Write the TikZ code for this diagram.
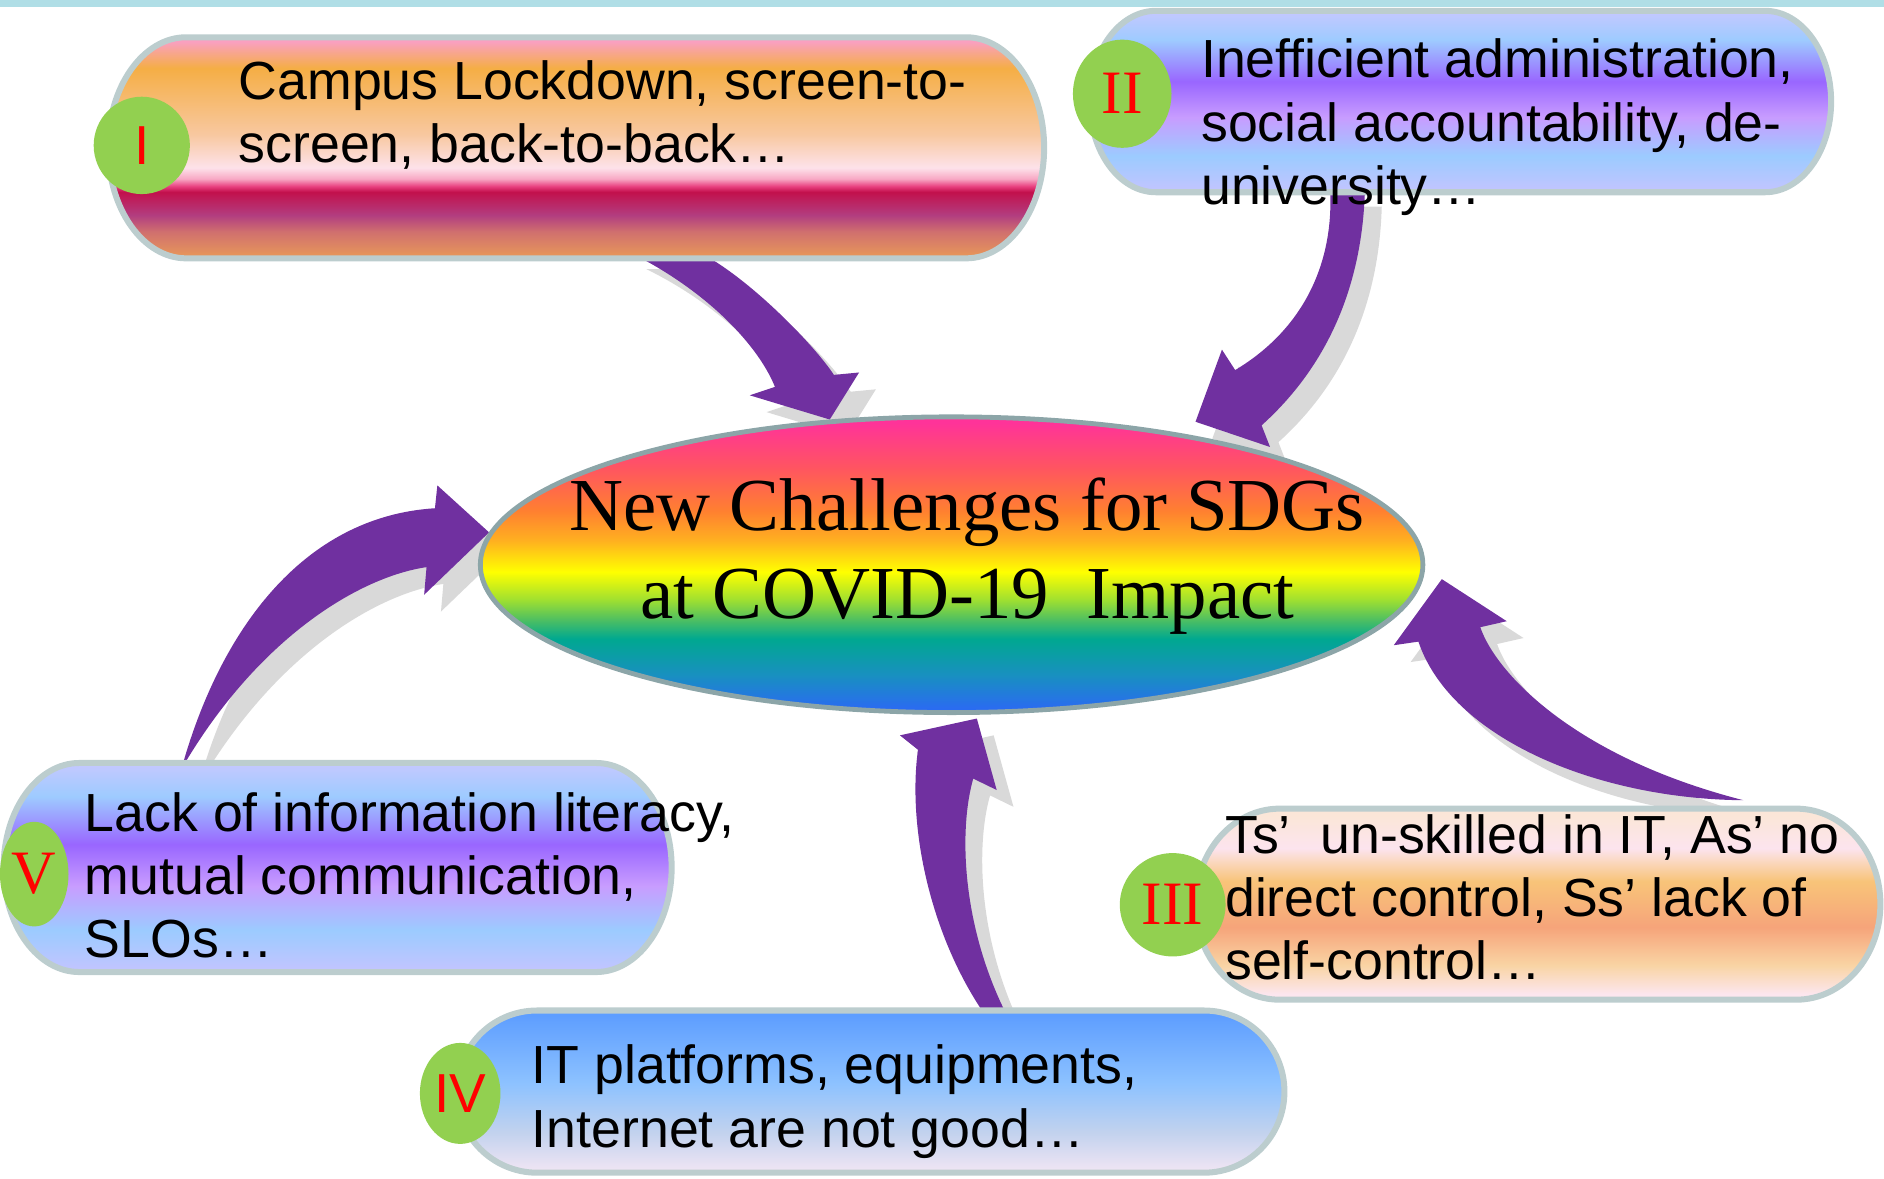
\documentclass[tikz,border=0pt]{standalone}
\usepackage{fontspec}
\setmainfont{Liberation Sans}
\newfontfamily\seriffont{Liberation Serif}
\usetikzlibrary{shapes.geometric, calc}

\pgfdeclarelayer{back}
\pgfsetlayers{back,main}

% COLOURS
\definecolor{arrow-purple}{HTML}{7030A0}
\definecolor{shadow-grey}{HTML}{D9D9D9}
\definecolor{pill-line}{HTML}{BCCDCE}
\definecolor{hub-line}{HTML}{8CA5A8}
\definecolor{badge-green}{HTML}{92D050}
\definecolor{band-cyan}{HTML}{B0DEE6}

\definecolor{c1}{HTML}{E99A58}\definecolor{c2}{HTML}{D0706E}
\definecolor{c3}{HTML}{B23E80}\definecolor{c4}{HTML}{C2104C}
\definecolor{c5}{HTML}{E84080}\definecolor{c6}{HTML}{F8A8C4}
\definecolor{c7}{HTML}{FDE2EA}\definecolor{c8}{HTML}{F8C8A0}
\definecolor{c9}{HTML}{F5AE45}\definecolor{c10}{HTML}{F9A0C0}

\definecolor{l1}{HTML}{C4C4FF}\definecolor{l2}{HTML}{9CCBFF}
\definecolor{l3}{HTML}{C89CFF}\definecolor{l4}{HTML}{9966FF}
\definecolor{l5}{HTML}{9ECBFF}\definecolor{l6}{HTML}{C5C8FF}

\definecolor{p1}{HTML}{FCE6EE}\definecolor{p2}{HTML}{F9D4A4}
\definecolor{p3}{HTML}{F6A47A}\definecolor{p4}{HTML}{F8C479}
\definecolor{p5}{HTML}{FCE4EE}\definecolor{p6}{HTML}{FBE6D8}

\definecolor{s1}{HTML}{F2E6F4}\definecolor{s2}{HTML}{C2D2EE}
\definecolor{s3}{HTML}{8DC2FF}\definecolor{s4}{HTML}{5E9EFF}

\definecolor{r1}{HTML}{2A6CF0}\definecolor{r2}{HTML}{1890C0}
\definecolor{r3}{HTML}{00A890}\definecolor{r4}{HTML}{50C060}
\definecolor{r5}{HTML}{A0E030}\definecolor{r6}{HTML}{FFFF00}
\definecolor{r7}{HTML}{FFB020}\definecolor{r8}{HTML}{FF8030}
\definecolor{r9}{HTML}{FF5560}\definecolor{r10}{HTML}{FF3399}

% SHADINGS
\pgfdeclareverticalshading{shade-campus}{100bp}{color(0bp)=(c1); color(25bp)=(c1);
    color(31bp)=(c2); color(34.7bp)=(c3); color(40bp)=(c4); color(41.3bp)=(c5);
    color(43bp)=(c6); color(45.5bp)=(c7); color(53bp)=(c8); color(68bp)=(c9);
    color(74bp)=(c10); color(100bp)=(c10)}
\pgfdeclareverticalshading{shade-lilac}{100bp}{color(0bp)=(l1); color(25bp)=(l1);
    color(35bp)=(l2); color(45.7bp)=(l3); color(55.5bp)=(l4); color(67bp)=(l5);
    color(75bp)=(l6); color(100bp)=(l6)}
\pgfdeclareverticalshading{shade-peach}{100bp}{color(0bp)=(p1); color(26.5bp)=(p1);
    color(34bp)=(p2); color(44bp)=(p3); color(56bp)=(p4); color(64.6bp)=(p5);
    color(73bp)=(p6); color(100bp)=(p6)}
\pgfdeclareverticalshading{shade-sky}{100bp}{color(0bp)=(s1); color(25bp)=(s1);
    color(37.5bp)=(s2); color(52.5bp)=(s3); color(73.5bp)=(s4); color(100bp)=(s4)}
\pgfdeclareverticalshading{shade-hub}{100bp}{color(0bp)=(r1); color(25.8bp)=(r1);
    color(31.4bp)=(r2); color(37.5bp)=(r3); color(40.8bp)=(r4); color(44.1bp)=(r5);
    color(48.8bp)=(r6); color(54.1bp)=(r7); color(59.1bp)=(r8); color(66.3bp)=(r9);
    color(74bp)=(r10); color(100bp)=(r10)}

\newcommand{\sansnum}{\fontsize{13}{15}\selectfont}
\newcommand{\serifnum}{\seriffont\fontsize{14.6}{16}\selectfont}

\tikzset{
    my-pill/.style={
        draw=pill-line, line width=0.5mm, shade
    },
    my-hub/.style={
        ellipse, draw=hub-line, line width=0.4mm, shade, shading=shade-hub,
        minimum width=7.84cm, minimum height=2.46cm, inner sep=0pt
    },
    my-title/.style={
        align=center, inner sep=0pt, font=\seriffont\fontsize{17.7}{20.8}\selectfont
    },
    my-badge/.style={
        ellipse, fill=badge-green, inner sep=0pt, text=red
    },
    my-text/.style={
        anchor=west, align=left, inner sep=0pt, font=\fontsize{12.7}{15}\selectfont
    },
    my-arrow/.style={fill=arrow-purple},
    my-shadow/.style={fill=shadow-grey, transform canvas={shift={(14,14)}}},
}

% #1 name, #2 shading, #3 x1, #4 y1, #5 x2, #6 y2, #7 end radius
\newcommand{\pillbox}[7]{%
    \path[my-pill, shading=#2]
        (#3+#7,#4) -- (#5-#7,#4)
        arc[start angle=-90, end angle=90, x radius=#7, y radius={(#6-#4)/2}]
        -- (#3+#7,#6)
        arc[start angle=90, end angle=270, x radius=#7, y radius={(#6-#4)/2}]
        -- cycle;
    \coordinate (#1) at ({(#3+#5)/2},{(#4+#6)/2});
}

% shadow first, then the arrow itself
\newcommand{\bentarrow}[1]{%
    \fill[my-shadow] #1;
    \fill[my-arrow]  #1;
}

\begin{document}
\begin{tikzpicture}[x=0.01cm, y=-0.01cm]

        \useasboundingbox (0,0) rectangle (1568,981);

        % TOP BAND
        \fill[band-cyan] (0,0) rectangle (1568,6);

        % HUB
        \node[my-hub]   (HUB)   at (792,470) {};
        \node[my-title] (TITLE) at (805,463) {New Challenges for SDGs\\at COVID-19\ \ Impact};

        % BOXES
        \pillbox{BOXI}  {shade-campus}{90} {31} {869} {215}{65}
        \pillbox{BOXII} {shade-lilac} {907}{9}  {1524}{160}{55}
        \pillbox{BOXIII}{shade-peach} {995}{673}{1565}{832}{70}
        \pillbox{BOXIV} {shade-sky}   {380}{841}{1069}{976}{67}
        \pillbox{BOXV}  {shade-lilac} {3}  {635}{559} {809}{63}

        % BADGES
        \node[my-badge, minimum width=.80cm, minimum height=.81cm, font=\sansnum]  (NUMI)   at (118,121)   {I};
        \node[my-badge, minimum width=.82cm, minimum height=.90cm, font=\serifnum] (NUMII)  at (934,78)    {II};
        \node[my-badge, minimum width=.88cm, minimum height=.86cm, font=\serifnum] (NUMIII) at (976,753)   {III};
        \node[my-badge, minimum width=.67cm, minimum height=.84cm, font=\sansnum]  (NUMIV)  at (383,910)   {IV};
        \node[my-badge, minimum width=.57cm, minimum height=.87cm, font=\serifnum] (NUMV)   at (28.5,727.5){V};

        % TEXTS
        \node[my-text] (TXTI)   at (198,95.6)  {Campus Lockdown, screen-to-\\screen, back-to-back…};
        \node[my-text] (TXTII)  at (999,105.8) {Inefficient administration,\\social accountability, de-\\university…};
        \node[my-text] (TXTIII) at (1019,746.9){Ts’\ \ un-skilled in IT, As’ no\\direct control, Ss’ lack of\\self-control…};
        \node[my-text] (TXTIV)  at (442,916.8) {IT platforms, equipments,\\Internet are not good…};
        \node[my-text] (TXTV)   at (70,728.4)  {Lack of information literacy,\\mutual communication,\\SLOs…};

        % ARROWS, BEHIND EVERYTHING
        \begin{pgfonlayer}{back}

        % I -> HUB
        \coordinate (AIso) at (524,210);
        \coordinate (AIsi) at (582,210);
        \coordinate (AIno) at (645,322);
        \coordinate (AIbo) at (624,329);
        \coordinate (AIbi) at (715,310);
        \coordinate (AIni) at (694,312);
        \bentarrow{(AIso) .. controls (585,240) and (630,285) .. (AIno) -- (AIbo) -- (HUB.130)
            -- (AIbi) -- (AIni) .. controls (680,290) and (625,232) .. (AIsi) -- cycle}

        % II -> HUB
        \coordinate (AIIso) at (1136,158);
        \coordinate (AIIsi) at (1107,158);
        \coordinate (AIIno) at (1050,354);
        \coordinate (AIIbo) at (1057,372);
        \coordinate (AIIt)  at (995,351);
        \coordinate (AIIbi) at (1017,291);
        \coordinate (AIIni) at (1028,308);
        \bentarrow{(AIIso) .. controls (1134,230) and (1110,300) .. (AIIno) -- (AIIbo) -- (AIIt)
            -- (AIIbi) -- (AIIni) .. controls (1088,272) and (1110,215) .. (AIIsi) -- cycle}

        % III -> HUB
        \coordinate (AIIIs)  at (1451,666);
        \coordinate (AIIIno) at (1180.5,534);
        \coordinate (AIIIbo) at (1160,537);
        \coordinate (AIIIt)  at (1200,482);
        \coordinate (AIIIbi) at (1254,517);
        \coordinate (AIIIni) at (1232,522);
        \bentarrow{(AIIIs) .. controls (1330,665) and (1208,615) .. (AIIIno) -- (AIIIbo) -- (AIIIt)
            -- (AIIIbi) -- (AIIIni) .. controls (1245,560) and (1310,630) .. (AIIIs) -- cycle}

        % IV -> HUB
        \coordinate (AIVso) at (820,845);
        \coordinate (AIVsi) at (838,845);
        \coordinate (AIVno) at (764,624);
        \coordinate (AIVbo) at (749,612);
        \coordinate (AIVt)  at (813,598);
        \coordinate (AIVbi) at (829.5,657.5);
        \coordinate (AIVni) at (810,648);
        \bentarrow{(AIVso) .. controls (775,780) and (755,690) .. (AIVno) -- (AIVbo) -- (AIVt)
            -- (AIVbi) -- (AIVni) .. controls (798,690) and (800,770) .. (AIVsi) -- cycle}

        % V -> HUB
        \coordinate (AVs)  at (151,640);
        \coordinate (AVno) at (362,423);
        \coordinate (AVbo) at (364,404);
        \coordinate (AVbi) at (353,495);
        \coordinate (AVni) at (355,472);
        \bentarrow{(AVs) .. controls (182,528) and (250,430) .. (AVno) -- (AVbo) -- (HUB.176)
            -- (AVbi) -- (AVni) .. controls (300,480) and (215,530) .. (AVs) -- cycle}

        \end{pgfonlayer}

    \end{tikzpicture}
\end{document}
